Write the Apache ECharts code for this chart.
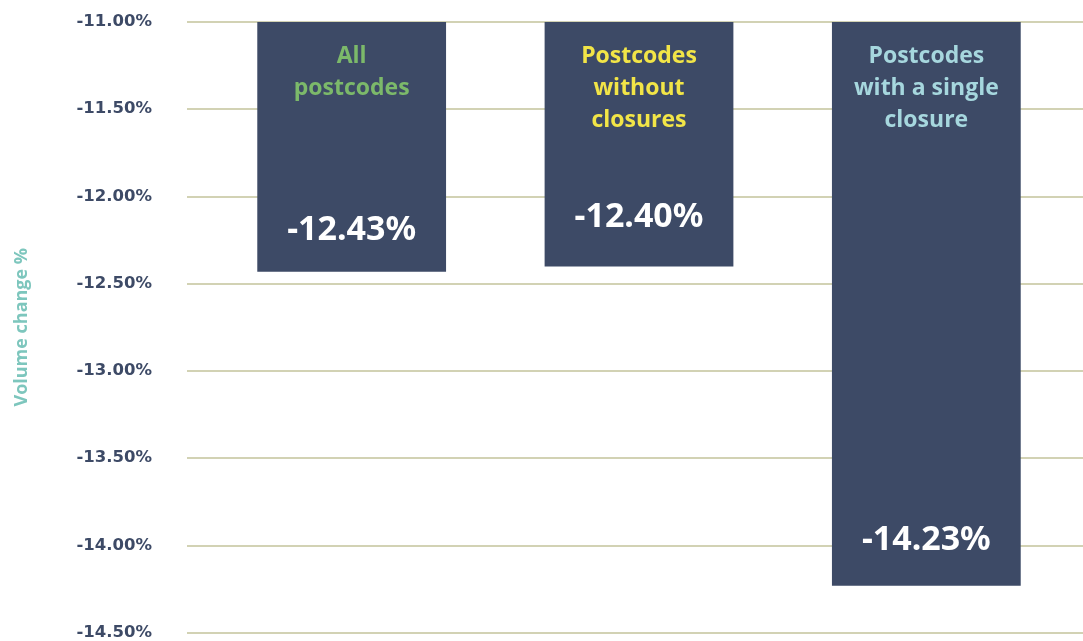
<!DOCTYPE html>
<html>
<head>
<meta charset="utf-8">
<script src="https://cdn.jsdelivr.net/npm/echarts@6/dist/echarts.min.js"></script>
<style>
  html, body { margin: 0; padding: 0; background: #fff; }
  #main { width: 1083px; height: 641px; }
</style>
</head>
<body>
<div id="main"></div>
<script>
var categories = ['All\npostcodes', 'Postcodes\nwithout\nclosures', 'Postcodes\nwith a single\nclosure'];
var volumeChange = [-12.43, -12.40, -14.23];
var yMin = -14.5, yMax = -11, yStep = 0.5;

// colours for the category titles, one per bar
var titleColors = ['#7cb96a', '#f2e547', '#a6d7de'];
// per-bar lift of the value label above the bar bottom
var labelLift = [24, 32, 29];

var chart = echarts.init(document.getElementById('main'));

var rich = {};
titleColors.forEach(function (c, i) {
    rich['c' + i] = { color: c, fontSize: 23, fontWeight: 'bold', lineHeight: 32,
        fontFamily: 'Open Sans', align: 'center' };
});

var option = {
    animation: false,
    grid: [
        { left: 187, right: 0, top: 22, bottom: 8 },
        { left: 208, right: 13, top: 22, bottom: 8 }
    ],
    xAxis: [
        { type: 'category', gridIndex: 0, data: categories, show: false },
        {
            type: 'category', gridIndex: 1, data: categories, position: 'top', z: 10,
            axisLine: { show: false }, axisTick: { show: false },
            axisLabel: {
                inside: true, margin: 18, verticalAlign: 'top', interval: 0,
                formatter: function (v, i) {
                    return v.split('\n').map(function (s) { return '{c' + i + '|' + s + '}'; }).join('\n');
                },
                rich: rich
            }
        }
    ],
    yAxis: [
        {
            type: 'value', gridIndex: 0, min: yMin, max: yMax, interval: yStep,
            name: 'Volume change %', nameLocation: 'middle', nameRotate: 90, nameGap: 156,
            nameTextStyle: { color: '#7dc6bd', fontSize: 18, fontWeight: 'bold', fontFamily: 'Open Sans' },
            axisLine: { show: false }, axisTick: { show: false },
            axisLabel: {
                margin: 35, color: '#3d4a66', fontSize: 16.5, fontWeight: 'bold', fontFamily: 'DejaVu Sans',
                formatter: function (v) { return v.toFixed(2) + '%'; }
            },
            splitLine: { lineStyle: { color: '#d2d2b4', width: 2 } }
        },
        { type: 'value', gridIndex: 1, min: yMin, max: yMax, interval: yStep, show: false,
          splitLine: { show: false } }
    ],
    series: [{
        type: 'bar',
        xAxisIndex: 1, yAxisIndex: 1,
        barWidth: '65.7%',
        clip: true,
        itemStyle: { color: '#3d4a66' },
        data: volumeChange.map(function (v, i) {
            return { value: v, label: { distance: labelLift[i] } };
        }),
        label: {
            show: true, position: 'insideBottom', color: '#fff',
            fontSize: 34, fontWeight: 'bold', fontFamily: 'Noto Sans',
            formatter: function (p) { return p.value.toFixed(2) + '%'; }
        }
    }]
};

chart.setOption(option);
</script>
</body>
</html>
